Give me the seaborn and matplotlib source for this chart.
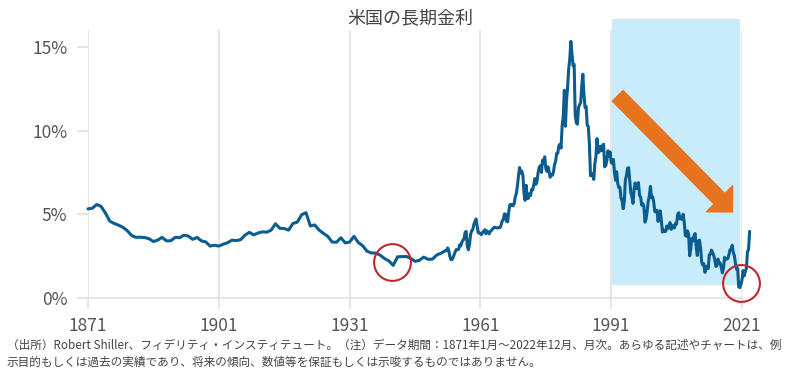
import numpy as np
import pandas as pd
import seaborn as sns
import matplotlib.pyplot as plt
from matplotlib.patches import Rectangle

# annual values 1871-1952 (%)
early_years = np.arange(1871, 1953)
early_rates = [
    5.32, 5.36, 5.58, 5.47, 5.07, 4.59, 4.45, 4.35, 4.22, 4.02,
    3.73, 3.62, 3.63, 3.61, 3.54, 3.37, 3.46, 3.62, 3.41, 3.42,
    3.62, 3.60, 3.75, 3.70, 3.50, 3.62, 3.41, 3.35, 3.10, 3.15,
    3.10, 3.21, 3.30, 3.45, 3.43, 3.48, 3.75, 3.92, 3.77, 3.88,
    3.95, 3.93, 4.05, 4.43, 4.16, 4.15, 4.05, 4.45, 4.53, 4.97,
    5.09, 4.30, 4.36, 4.06, 3.86, 3.68, 3.34, 3.33, 3.60, 3.29,
    3.34, 3.68, 3.31, 3.12, 2.79, 2.69, 2.68, 2.56, 2.36, 2.21,
    1.95, 2.46, 2.47, 2.48, 2.37, 2.19, 2.25, 2.44, 2.31, 2.32,
    2.57, 2.68,
]

# quarterly values 1953-2022 (Jan, Apr, Jul, Oct)
late_years = np.arange(1953, 2023)
late_rates = [
    2.83, 2.83, 2.99, 2.82,   # 1953
    2.48, 2.29, 2.30, 2.43,
    2.61, 2.78, 2.90, 2.88,
    2.90, 3.18, 3.11, 3.33,
    3.46, 3.51, 3.93, 3.97,
    3.09, 2.88, 3.20, 3.80,
    4.02, 4.08, 4.40, 4.57,
    4.72, 4.28, 3.90, 3.89,   # 1960
    3.84, 3.78, 3.92, 3.98,
    4.08, 3.84, 4.01, 3.93,
    3.83, 3.97, 4.02, 4.11,
    4.17, 4.23, 4.20, 4.19,
    4.19, 4.20, 4.20, 4.35,
    4.61, 4.67, 5.02, 5.01,
    4.58, 4.55, 5.15, 5.57,
    5.53, 5.59, 5.50, 5.64,
    6.04, 6.25, 6.72, 7.33,
    7.79, 7.46, 7.57, 7.33,   # 1970
    6.24, 5.83, 6.73, 5.93,
    5.95, 6.23, 6.11, 6.48,
    6.46, 6.77, 7.13, 6.79,
    6.99, 7.51, 7.81, 7.90,
    7.50, 8.23, 8.06, 8.43,
    7.74, 7.56, 7.83, 7.56,
    7.21, 7.37, 7.33, 7.52,
    7.96, 8.15, 8.64, 8.64,
    9.10, 9.18, 8.95, 10.30,
    10.80, 12.40, 10.25, 11.75,   # 1980
    12.57, 13.68, 14.28, 15.32,
    14.59, 13.87, 13.95, 10.91,
    10.46, 10.38, 11.38, 11.54,
    11.67, 12.65, 13.36, 12.16,
    11.38, 11.43, 10.31, 10.24,
    9.19, 7.30, 7.30, 7.43,
    7.08, 8.02, 8.45, 9.52,
    8.67, 8.72, 9.06, 8.80,
    9.09, 9.18, 7.83, 7.91,
    8.21, 8.79, 8.47, 8.72,   # 1990
    8.09, 8.04, 8.27, 7.53,
    7.03, 7.54, 6.84, 6.59,
    6.60, 5.97, 5.81, 5.33,
    5.75, 7.04, 7.30, 7.74,
    7.78, 7.06, 6.28, 6.04,
    5.65, 6.51, 6.87, 6.53,
    6.58, 6.89, 6.12, 6.03,
    5.54, 5.64, 5.46, 4.53,
    4.72, 5.18, 5.79, 6.11,
    6.66, 5.99, 6.05, 5.74,   # 2000
    5.16, 5.14, 5.24, 4.57,
    5.04, 5.21, 4.65, 3.94,
    4.05, 3.96, 3.98, 4.29,
    4.15, 4.35, 4.50, 4.10,
    4.22, 4.34, 4.18, 4.46,
    4.42, 4.99, 5.09, 4.73,
    4.76, 4.69, 5.00, 4.53,
    3.74, 3.68, 4.01, 3.81,
    2.52, 2.93, 3.56, 3.39,
    3.73, 3.85, 3.01, 2.54,   # 2010
    3.39, 3.46, 3.00, 2.15,
    1.97, 2.05, 1.53, 1.75,
    1.91, 1.76, 2.58, 2.62,
    2.86, 2.71, 2.54, 2.30,
    1.88, 1.94, 2.32, 2.07,
    2.09, 1.81, 1.50, 1.76,
    2.43, 2.30, 2.32, 2.36,
    2.58, 2.87, 2.89, 3.15,
    2.71, 2.53, 2.06, 1.71,
    1.76, 0.66, 0.62, 0.79,   # 2020
    1.08, 1.64, 1.32, 1.58,
    1.76, 2.75, 2.90, 3.98,
]

year_ticks = [1871, 1901, 1931, 1961, 1991, 2021]
pct_ticks = [0, 5, 10, 15]

title = "米国の長期金利"
note = ("（出所）Robert Shiller、フィデリティ・インスティテュート。（注）データ期間：1871年1月～2022年12月、月次。あらゆる記述やチャートは、例\n"
        "示目的もしくは過去の実績であり、将来の傾向、数値等を保証もしくは示唆するものではありません。")

late_x = np.repeat(late_years, 4) + np.tile([0, 0.25, 0.5, 0.75], len(late_years))
df = pd.DataFrame({
    "year": np.concatenate([early_years.astype(float), late_x]),
    "rate": early_rates + late_rates,
})

sns.set_theme(style="white")
plt.rcParams["font.family"] = ["Noto Sans CJK JP", "DejaVu Sans"]

grid_col = "#e3e3e3"
text_col = "#555555"

fig = plt.figure(figsize=(8.07, 3.76), dpi=100)
ax = fig.add_axes([88 / 807, 78 / 376, 654 / 807, 268 / 376])

# highlighted period
ax.add_patch(Rectangle((1991.2, 0.78), 29.4, 15.9, facecolor="#c8ecf9",
                       edgecolor="none", zorder=1, clip_on=False))

sns.lineplot(data=df, x="year", y="rate", ax=ax, color="#0b5d8f",
             linewidth=2.2, zorder=3)
for line in ax.lines:
    line.set_clip_on(False)

# downward arrow
ax.annotate("", xy=(2018.8, 5.14), xytext=(1992.5, 12.07),
            arrowprops=dict(arrowstyle="simple,head_width=2.2,head_length=1.1,tail_width=0.9",
                            color="#e8731f", shrinkA=0, shrinkB=0), zorder=4)

# red circles
ax.plot([1940.7, 2020.7], [2.15, 0.9], "o", mfc="none", mec="#c0262d",
        ms=26.5, mew=1.5, zorder=5, clip_on=False)

ax.set_xlim(1871, 2021)
ax.set_ylim(0, 16)
ax.set_xticks(year_ticks)
ax.set_xticklabels([str(y) for y in year_ticks])
ax.set_yticks(pct_ticks)
ax.set_yticklabels([f"{p}%" for p in pct_ticks])
ax.set_xlabel("")
ax.set_ylabel("")

ax.grid(axis="x", color=grid_col, linewidth=1.3, zorder=0)
ax.grid(axis="y", visible=False)
for side in ["top", "right", "left"]:
    ax.spines[side].set_visible(False)
ax.spines["bottom"].set_color(grid_col)
ax.spines["bottom"].set_linewidth(1.3)
ax.tick_params(axis="x", length=8, width=1.3, color=grid_col, pad=6,
               labelsize=12.5, labelcolor=text_col, bottom=True)
ax.tick_params(axis="y", length=8, width=1.3, color=grid_col, pad=7,
               labelsize=12.5, labelcolor=text_col, left=True)

fig.text(410 / 807, 1 - 18 / 376, title, ha="center", va="center",
         fontsize=13, color="#444444")
fig.text(7 / 807, 1 - 339 / 376, note, ha="left", va="top",
         fontsize=8.4, color="#444444", linespacing=1.35)

fig.savefig("out.png", dpi=100)
